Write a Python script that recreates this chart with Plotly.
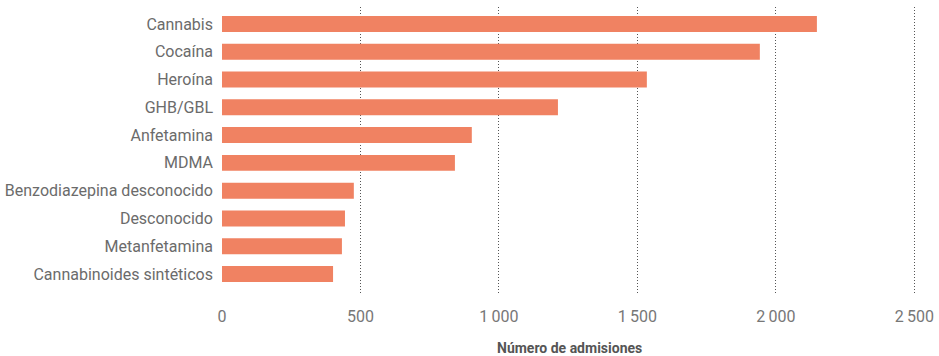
import plotly.graph_objects as go

categories = ["Cannabis", "Cocaína", "Heroína", "GHB/GBL", "Anfetamina", "MDMA",
              "Benzodiazepina desconocido", "Desconocido", "Metanfetamina",
              "Cannabinoides sintéticos"]
admissions = [2148, 1942, 1534, 1213, 902, 841, 476, 444, 433, 401]
tick_values = [0, 500, 1000, 1500, 2000, 2500]
tick_labels = ["0", "500", "1\u2009000", "1\u2009500", "2\u2009000", "2\u2009500"]
x_title = "Número de admisiones"

W, H = 939, 356
L, R, T, B = 222, 8, 7, 62
plot_w = W - L - R
plot_h = H - T - B

fig = go.Figure(go.Bar(
    x=admissions, y=categories, orientation="h",
    marker=dict(color="#f08262", line=dict(width=0)),
    width=0.575,
))

fig.update_layout(
    width=W, height=H,
    margin=dict(l=L, r=R, t=T, b=B, autoexpand=False),
    paper_bgcolor="white", plot_bgcolor="white",
    font=dict(family="Roboto, Arial, sans-serif", size=16, color="#6b6b6b"),
    showlegend=False,
    xaxis=dict(
        range=[0, 2560], tickvals=tick_values, ticktext=tick_labels,
        showgrid=True, gridcolor="#555555", griddash="1px,2px", gridwidth=1,
        zeroline=False, showline=False, ticks="", automargin=False,
        ticklabelstandoff=11,
        tickfont=dict(size=16, color="#777777"),
    ),
    yaxis=dict(
        categoryorder="array", categoryarray=categories,
        range=[9.72, -0.61], showgrid=False, zeroline=False, showline=False,
        ticks="", ticklabelstandoff=8, automargin=False,
        tickfont=dict(size=16, color="#6b6b6b"),
    ),
    annotations=[dict(
        text="<b>" + x_title + "</b>",
        x=(569 - L) / plot_w, xref="paper",
        y=(H - B - 348) / plot_h, yref="paper",
        xanchor="center", yanchor="middle",
        showarrow=False, font=dict(size=14, color="#555555"),
    )],
)

fig.write_html("out.html",
               config={"displayModeBar": False},
               post_script="document.body.style.margin='0';document.body.style.overflow='hidden';")
